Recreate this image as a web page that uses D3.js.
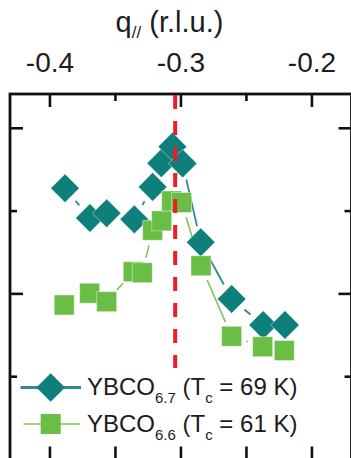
<!DOCTYPE html>
<html>
<head>
<meta charset="utf-8">
<script src="https://cdn.jsdelivr.net/npm/d3@7"></script>
<style>
  html, body { margin: 0; padding: 0; background: #fff; }
  svg { display: block; }
  text { font-family: "Liberation Sans", Arial, Helvetica, sans-serif; fill: #1c1c1c; }
</style>
</head>
<body>
<svg id="chart" width="351" height="458"></svg>
<script>
// Momentum transfer q// (r.l.u.) for each scan point
const qYBCO67 = [-0.3885, -0.3695, -0.3567, -0.3356, -0.3216, -0.3150, -0.3065, -0.2987, -0.2849, -0.2613, -0.2372, -0.2206];
const iYBCO67 = [1.638, 1.458, 1.487, 1.450, 1.646, 1.789, 1.889, 1.787, 1.312, 0.969, 0.812, 0.812];

const qYBCO66 = [-0.3891, -0.3697, -0.3567, -0.3364, -0.3295, -0.3216, -0.3147, -0.3071, -0.2995, -0.2847, -0.2613, -0.2376, -0.2211];
const iYBCO66 = [0.933, 1.004, 0.953, 1.134, 1.128, 1.384, 1.441, 1.561, 1.552, 1.170, 0.744, 0.681, 0.658];

// Peak position marker
const qPeak = -0.3044;

// Axis ticks
const xMajorTicks = [-0.4, -0.3, -0.2];
const xMajorLabels = ["-0.4", "-0.3", "-0.2"];
const xMinorTicks = [-0.35, -0.25];
const yMajorTicks = [1, 2];
const yMinorTicks = [0.5, 1.5];

const seriesNames = ["YBCO", "YBCO"];
const seriesSubs = ["6.7", "6.6"];
const seriesTc = ["69", "61"];

const svg = d3.select("#chart");

const x = d3.scaleLinear().domain([-0.4305, -0.1698]).range([10, 351.5]);
const y = d3.scaleLinear().domain([0, 2.207]).range([459.5, 94]);

const teal = "#0f7f7b";
const tealLine = "#2f8a93";
const green = "#6abd45";
const greenLine = "#7cc55a";
const red = "#ec1c2a";
const ink = "#111";

const [x0, x1] = x.range();
const [y0, y1] = y.range();

// Frame
svg.append("rect")
  .attr("x", x0).attr("y", y1)
  .attr("width", x1 - x0).attr("height", y0 - y1)
  .attr("fill", "none").attr("stroke", ink).attr("stroke-width", 2.8);

const ticks = svg.append("g").attr("stroke", ink).attr("stroke-width", 2.6);
const major = 13, minor = 7;

// top & bottom ticks (inward)
xMajorTicks.forEach(v => {
  ticks.append("line").attr("x1", x(v)).attr("x2", x(v)).attr("y1", y1).attr("y2", y1 + major);
  ticks.append("line").attr("x1", x(v)).attr("x2", x(v)).attr("y1", y0).attr("y2", y0 - major);
});
xMinorTicks.forEach(v => {
  ticks.append("line").attr("x1", x(v)).attr("x2", x(v)).attr("y1", y1).attr("y2", y1 + minor);
  ticks.append("line").attr("x1", x(v)).attr("x2", x(v)).attr("y1", y0).attr("y2", y0 - major);
});
// left & right ticks (inward)
yMajorTicks.forEach(v => {
  ticks.append("line").attr("y1", y(v)).attr("y2", y(v)).attr("x1", x0).attr("x2", x0 + major);
  ticks.append("line").attr("y1", y(v)).attr("y2", y(v)).attr("x1", x1).attr("x2", x1 - major);
});
yMinorTicks.forEach(v => {
  ticks.append("line").attr("y1", y(v)).attr("y2", y(v)).attr("x1", x0).attr("x2", x0 + minor);
  ticks.append("line").attr("y1", y(v)).attr("y2", y(v)).attr("x1", x1).attr("x2", x1 - minor);
});

// Tick labels on top
svg.append("g").selectAll("text")
  .data(xMajorTicks)
  .join("text")
  .attr("x", d => x(d))
  .attr("y", 71.5)
  .attr("text-anchor", "middle")
  .attr("font-size", 28)
  .text((d, i) => xMajorLabels[i]);

// Axis title
const title = svg.append("text")
  .attr("x", 169.5).attr("y", 31.5)
  .attr("text-anchor", "middle")
  .attr("font-size", 29);
title.append("tspan").text("q");
title.append("tspan").attr("font-size", 17).attr("dy", 6).text("//");
title.append("tspan").attr("dy", -6).text(" (r.l.u.)");

// Connecting lines with a gap around each symbol
function gappedSegments(g, qs, is, gap, color, width) {
  for (let k = 0; k < qs.length - 1; k++) {
    const ax = x(qs[k]), ay = y(is[k]);
    const bx = x(qs[k + 1]), by = y(is[k + 1]);
    const len = Math.hypot(bx - ax, by - ay);
    if (len <= 2 * gap) continue;
    const ux = (bx - ax) / len, uy = (by - ay) / len;
    g.append("line")
      .attr("x1", ax + ux * gap).attr("y1", ay + uy * gap)
      .attr("x2", bx - ux * gap).attr("y2", by - uy * gap)
      .attr("stroke", color).attr("stroke-width", width);
  }
}

const lines = svg.append("g");
gappedSegments(lines, qYBCO67, iYBCO67, 16.5, tealLine, 1.8);
gappedSegments(lines, qYBCO66, iYBCO66, 15.5, greenLine, 1.6);

const dR = 14.3;   // diamond half-diagonal
const sH = 10;     // square half-side
const diamondPath = `M0,${-dR}L${dR},0L0,${dR}L${-dR},0Z`;
const squarePath = `M${-sH},${-sH}H${sH}V${sH}H${-sH}Z`;

// YBCO6.7 diamonds
svg.append("g").selectAll("path")
  .data(d3.zip(qYBCO67, iYBCO67))
  .join("path")
  .attr("d", diamondPath)
  .attr("transform", d => `translate(${x(d[0])},${y(d[1])})`)
  .attr("fill", teal)
  .attr("stroke", "#ffffff").attr("stroke-opacity", 0.55).attr("stroke-width", 0.8);

// YBCO6.6 squares
svg.append("g").selectAll("path")
  .data(d3.zip(qYBCO66, iYBCO66))
  .join("path")
  .attr("d", squarePath)
  .attr("transform", d => `translate(${x(d[0])},${y(d[1])})`)
  .attr("fill", green)
  .attr("stroke", "#ffffff").attr("stroke-opacity", 0.55).attr("stroke-width", 0.8);

// Dashed line at the peak position
svg.append("line")
  .attr("x1", x(qPeak)).attr("x2", x(qPeak))
  .attr("y1", y1 + 1).attr("y2", 368)
  .attr("stroke", red).attr("stroke-width", 4)
  .attr("stroke-dasharray", "14,12");

// Legend
const legend = svg.append("g");
const legRows = [
  { yy: 387.5, color: teal, line: tealLine, lw: 2.8, path: diamondPath, x1: 20.5, x2: 81 },
  { yy: 424, color: green, line: greenLine, lw: 1.5, path: squarePath, x1: 23.5, x2: 80 }
];
legRows.forEach((r, i) => {
  legend.append("line")
    .attr("x1", r.x1).attr("x2", r.x2).attr("y1", r.yy).attr("y2", r.yy)
    .attr("stroke", r.line).attr("stroke-width", r.lw);
  legend.append("path").attr("d", r.path)
    .attr("transform", `translate(50.7,${r.yy})`)
    .attr("fill", r.color);
  const t = legend.append("text")
    .attr("x", 87).attr("y", r.yy + 7.8)
    .attr("font-size", 24);
  t.append("tspan").text(seriesNames[i]);
  t.append("tspan").attr("font-size", 15).attr("dy", 8).text(seriesSubs[i]);
  t.append("tspan").attr("dy", -8).text(" (T");
  t.append("tspan").attr("font-size", 15).attr("dy", 8).text("c");
  t.append("tspan").attr("dy", -8).text(` = ${seriesTc[i]} K)`);
});
</script>
</body>
</html>
